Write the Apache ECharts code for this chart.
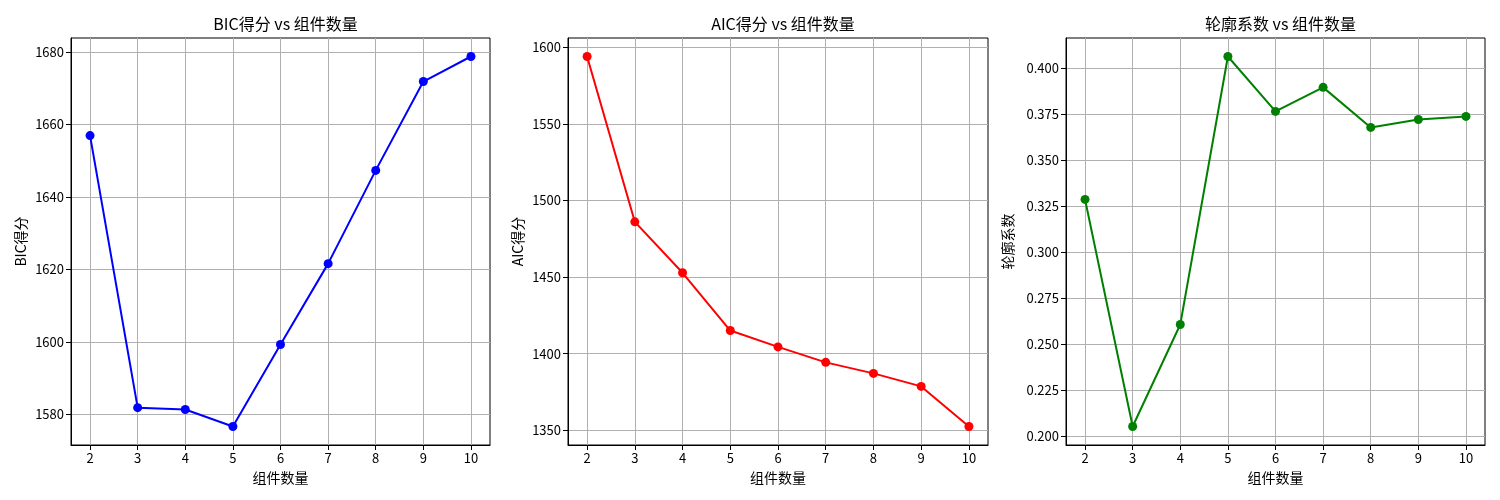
<!DOCTYPE html>
<html>
<head>
<meta charset="utf-8" />
<title>GMM 组件数量评估</title>
<script src="https://cdn.jsdelivr.net/npm/echarts@6/dist/echarts.min.js"></script>
<style>
  html, body { margin: 0; padding: 0; background: #fff; }
  #chart { width: 1500px; height: 500px; }
</style>
</head>
<body>
<div id="chart"></div>
<script type="text/javascript">
// 组件数量
var components = [2, 3, 4, 5, 6, 7, 8, 9, 10];
// 三个指标
var bicScores = [1656.9, 1581.9, 1581.4, 1576.7, 1599.3, 1621.6, 1647.3, 1671.8, 1678.7];
var aicScores = [1594.1, 1486.1, 1452.8, 1415.1, 1404.4, 1394.3, 1387.1, 1378.6, 1352.4];
var silhouette = [0.3287, 0.2051, 0.2606, 0.4065, 0.3766, 0.3897, 0.3679, 0.3722, 0.3739];
// 刻度
var bicTicks = [1580, 1600, 1620, 1640, 1660, 1680];
var aicTicks = [1350, 1400, 1450, 1500, 1550, 1600];
var silTicks = [0.200, 0.225, 0.250, 0.275, 0.300, 0.325, 0.350, 0.375, 0.400];

var font = '"Noto Sans CJK SC", "DejaVu Sans", sans-serif';

function pairs(ys) {
    var out = [];
    for (var i = 0; i < components.length; i++) {
        out.push([components[i], ys[i]]);
    }
    return out;
}

// matplotlib 默认 5% 边距
function pad(ys) {
    var lo = Math.min.apply(null, ys), hi = Math.max.apply(null, ys);
    var r = hi - lo;
    return [lo - r * 0.05, hi + r * 0.05];
}

var grids = [
    { left: 71, top: 38, width: 419, height: 407 },
    { left: 568, top: 38, width: 420, height: 407 },
    { left: 1066, top: 38, width: 419, height: 407 }
];
grids.forEach(function (g) {
    g.show = true;
    g.borderColor = '#000';
    g.borderWidth = 1;
    g.backgroundColor = '#fff';
    g.containLabel = false;
});

var titles = ['BIC得分 vs 组件数量', 'AIC得分 vs 组件数量', '轮廓系数 vs 组件数量'];
var yNames = ['BIC得分', 'AIC得分', '轮廓系数'];
var yTicks = [bicTicks, aicTicks, silTicks];
var yData = [bicScores, aicScores, silhouette];
var colors = ['#0000ff', '#ff0000', '#008000'];
var yNameGaps = [43, 43, 51];

var gridLine = { show: true, lineStyle: { color: '#b0b0b0', width: 1 } };

var xAxes = [], yAxes = [], series = [], title = [];
for (var k = 0; k < 3; k++) {
    var ext = pad(yData[k]);
    title.push({
        text: titles[k],
        left: grids[k].left + grids[k].width / 2,
        textAlign: 'center',
        top: 11,
        textStyle: { fontFamily: font, fontSize: 16, fontWeight: 'normal', color: '#000' }
    });
    xAxes.push({
        type: 'value',
        gridIndex: k,
        min: 1.6,
        max: 10.4,
        name: '组件数量',
        nameLocation: 'middle',
        nameGap: 26,
        nameTextStyle: { fontFamily: font, fontSize: 14, color: '#000' },
        axisLine: { show: true, onZero: false, lineStyle: { color: '#000', width: 1 } },
        axisTick: { show: true, inside: false, length: 5, lineStyle: { color: '#000' }, customValues: components },
        axisLabel: { show: true, margin: 7, fontFamily: font, fontSize: 13, color: '#000', customValues: components },
        splitLine: gridLine
    });
    yAxes.push({
        type: 'value',
        gridIndex: k,
        min: ext[0],
        max: ext[1],
        name: yNames[k],
        nameLocation: 'middle',
        nameGap: yNameGaps[k],
        nameTextStyle: { fontFamily: font, fontSize: 14, color: '#000' },
        axisLine: { show: true, onZero: false, lineStyle: { color: '#000', width: 1 } },
        axisTick: { show: true, inside: false, length: 5, lineStyle: { color: '#000' }, customValues: yTicks[k] },
        axisLabel: {
            show: true, margin: 7, fontFamily: font, fontSize: 13, color: '#000',
            customValues: yTicks[k],
            formatter: k === 2 ? function (v) { return v.toFixed(3); } : function (v) { return String(Math.round(v)); }
        },
        splitLine: gridLine
    });
    series.push({
        type: 'line',
        xAxisIndex: k,
        yAxisIndex: k,
        data: pairs(yData[k]),
        symbol: 'circle',
        symbolSize: 9,
        lineStyle: { color: colors[k], width: 2 },
        itemStyle: { color: colors[k] },
        animation: false,
        z: 3
    });
}

var myChart = echarts.init(document.getElementById('chart'));
myChart.setOption({
    backgroundColor: '#fff',
    animation: false,
    title: title,
    grid: grids,
    xAxis: xAxes,
    yAxis: yAxes,
    series: series
});
</script>
</body>
</html>
